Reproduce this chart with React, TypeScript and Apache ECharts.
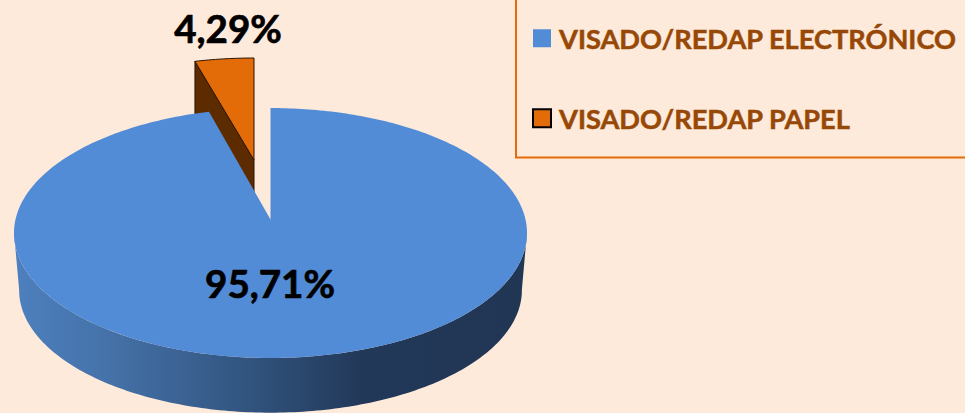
import React, { useEffect, useRef } from "react";
import * as echarts from "echarts";

const categories = ["VISADO/REDAP ELECTRÓNICO", "VISADO/REDAP PAPEL"];
const values = [95.71, 4.29];
const topColors = ["#528BD6", "#E36C09"];
const wallColor = "#5C2C00";
const FONT = "Lato, 'Noto Sans', sans-serif";

const total = values[0] + values[1];

// Perspective projection of the pie's top disc
const K = 0.108;
const A = 255;
const B = 123.5;
function project(t: number, ox: number, oy: number, sx: number, sy: number): number[] {
  const d = 1 + K * Math.cos(t);
  return [ox + (sx * A * Math.sin(t)) / d, oy - (sy * B * Math.cos(t)) / d];
}
function arc(from: number, to: number, ox: number, oy: number, sx: number, sy: number) {
  const out: number[][] = [];
  const n = Math.max(4, Math.ceil(Math.abs(to - from) * 60));
  for (let i = 0; i <= n; i++) out.push(project(from + ((to - from) * i) / n, ox, oy, sx, sy));
  return out;
}
const pct = (v: number) => v.toFixed(2).replace(".", ",") + "%";

const labelStyle = (text: string) => ({
  text,
  font: `bold 38.5px ${FONT}`,
  fill: "#000",
  stroke: "#000",
  lineWidth: 0.7,
  align: "center",
  verticalAlign: "middle",
});

function renderBlue(_p: any, api: any) {
  const OX = 270.5, OY = 219.5;
  const sweep = (api.value(0) / total) * Math.PI * 2;
  const s = (96 * Math.PI) / 180;
  const e = (264 * Math.PI) / 180;
  const wall = [...arc(s, e, OX, OY, 1, 1), ...arc(e, s, OX, OY + 57.5, 0.98, 0.98)];
  const top = [[OX, OY], ...arc(0, sweep, OX, OY, 1, 1)];
  return {
    type: "group",
    children: [
      {
        type: "polygon",
        shape: { points: wall },
        style: {
          fill: new echarts.graphic.LinearGradient(0, 0, 1, 0, [
            { offset: 0, color: "#4D80BE" },
            { offset: 0.18, color: "#4572A9" },
            { offset: 0.45, color: "#325580" },
            { offset: 0.68, color: "#223859" },
            { offset: 1, color: "#213653" },
          ]),
        },
      },
      { type: "polygon", shape: { points: top }, style: { fill: topColors[0] } },
      { type: "text", x: 270, y: 283, style: labelStyle(pct(api.value(0))) },
    ],
  };
}

function renderOrange(_p: any, api: any) {
  const OX = 254, OY = 160;
  const sweep = (api.value(0) / total) * Math.PI * 2;
  const start = Math.PI * 2 - sweep;
  const SX = 0.96, SY = 0.915;
  const left = project(start, OX, OY, SX, SY);
  const wall = [left, [OX, OY], [OX, OY + 50], [left[0], left[1] + 60]];
  const top = [[OX, OY], ...arc(start, Math.PI * 2, OX, OY, SX, SY)];
  return {
    type: "group",
    children: [
      { type: "polygon", shape: { points: wall }, style: { fill: wallColor, stroke: "#2b1500", lineWidth: 1 } },
      { type: "polygon", shape: { points: top }, style: { fill: topColors[1], stroke: "#2b1500", lineWidth: 1 } },
      { type: "text", x: 228, y: 28, style: labelStyle(pct(api.value(0))) },
    ],
  };
}

export default function App() {
  const ref = useRef<HTMLDivElement>(null);
  useEffect(() => {
    document.body.style.margin = "0";
    const chart = echarts.init(ref.current!, null, { renderer: "svg" });
    chart.setOption({
      animation: false,
      backgroundColor: "#FDEADA",
      legend: {
        left: 532,
        top: 24.5,
        padding: 0,
        orient: "vertical",
        itemWidth: 18,
        itemHeight: 18,
        itemGap: 52.5,
        selectedMode: false,
        icon: "rect",
        textStyle: {
          color: "#984806",
          fontFamily: FONT,
          fontWeight: "bold",
          fontSize: 27.2,
          textBorderColor: "#984806",
          textBorderWidth: 0.5,
          padding: [0, 0, 0, 3],
        },
        data: [
          { name: categories[0], itemStyle: { color: topColors[0], borderWidth: 0 } },
          { name: categories[1], itemStyle: { color: topColors[1], borderColor: "#000", borderWidth: 2 } },
        ],
      },
      graphic: [
        {
          type: "polyline",
          silent: true,
          shape: { points: [[516, 0], [516, 157.5], [965, 157.5]] },
          style: { stroke: "#E36C09", lineWidth: 2, fill: "none" },
        },
      ],
      series: [
        {
          type: "custom",
          name: categories[1],
          coordinateSystem: "none",
          silent: true,
          z: 1,
          renderItem: renderOrange,
          data: [values[1]],
        },
        {
          type: "custom",
          name: categories[0],
          coordinateSystem: "none",
          silent: true,
          z: 2,
          renderItem: renderBlue,
          data: [values[0]],
        },
      ],
    });
    return () => chart.dispose();
  }, []);
  return <div ref={ref} style={{ width: 965, height: 413 }} />;
}
